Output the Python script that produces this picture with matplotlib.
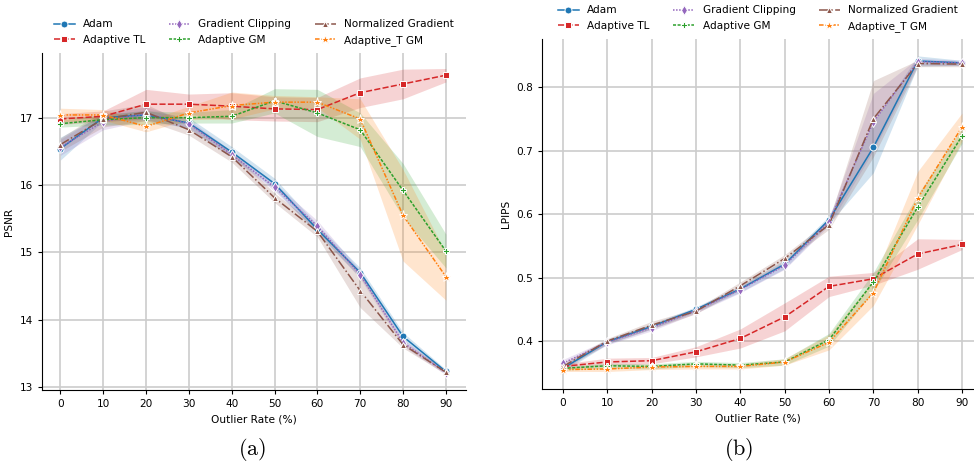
import matplotlib
matplotlib.use("Agg")
import matplotlib.pyplot as plt
import numpy as np

# Outlier rates (%)
rates = [0, 10, 20, 30, 40, 50, 60, 70, 80, 90]

methods = ["Adam", "Adaptive TL", "Gradient Clipping", "Adaptive GM",
           "Normalized Gradient", "Adaptive_T GM"]

# PSNR means and band half-widths
psnr_adam = [16.54, 17.00, 17.04, 16.92, 16.49, 16.02, 15.34, 14.70, 13.75, 13.23]
psnr_tl = [16.98, 17.02, 17.20, 17.20, 17.17, 17.13, 17.12, 17.37, 17.50, 17.63]
psnr_clip = [16.56, 16.94, 17.06, 16.91, 16.45, 15.97, 15.39, 14.67, 13.66, 13.21]
psnr_gm = [16.91, 16.97, 17.00, 17.00, 17.02, 17.25, 17.07, 16.82, 15.92, 15.02]
psnr_norm = [16.60, 16.98, 17.08, 16.82, 16.42, 15.81, 15.31, 14.43, 13.63, 13.22]
psnr_tgm = [17.04, 17.04, 16.87, 17.07, 17.18, 17.23, 17.23, 16.98, 15.55, 14.64]

psnr_adam_err = [0.17, 0.05, 0.07, 0.08, 0.08, 0.08, 0.07, 0.07, 0.06, 0.03]
psnr_tl_err = [0.08, 0.08, 0.22, 0.15, 0.20, 0.18, 0.18, 0.22, 0.22, 0.10]
psnr_clip_err = [0.12, 0.12, 0.10, 0.06, 0.05, 0.06, 0.08, 0.06, 0.05, 0.03]
psnr_gm_err = [0.05, 0.08, 0.10, 0.08, 0.10, 0.18, 0.35, 0.25, 0.40, 0.25]
psnr_norm_err = [0.10, 0.12, 0.12, 0.08, 0.08, 0.07, 0.08, 0.25, 0.05, 0.03]
psnr_tgm_err = [0.10, 0.08, 0.08, 0.10, 0.20, 0.10, 0.08, 0.30, 0.68, 0.35]

# LPIPS means and band half-widths
lpips_adam = [0.357, 0.399, 0.423, 0.450, 0.482, 0.521, 0.591, 0.705, 0.841, 0.838]
lpips_tl = [0.360, 0.367, 0.369, 0.383, 0.404, 0.438, 0.486, 0.498, 0.537, 0.552]
lpips_clip = [0.365, 0.398, 0.421, 0.448, 0.481, 0.519, 0.588, 0.745, 0.840, 0.838]
lpips_gm = [0.357, 0.361, 0.360, 0.364, 0.362, 0.367, 0.402, 0.493, 0.611, 0.723]
lpips_norm = [0.360, 0.400, 0.425, 0.447, 0.487, 0.530, 0.583, 0.750, 0.837, 0.836]
lpips_tgm = [0.355, 0.356, 0.359, 0.360, 0.360, 0.367, 0.398, 0.476, 0.625, 0.737]

lpips_adam_err = [0.005, 0.004, 0.004, 0.004, 0.005, 0.007, 0.006, 0.040, 0.008, 0.004]
lpips_tl_err = [0.004, 0.006, 0.005, 0.008, 0.015, 0.022, 0.016, 0.010, 0.024, 0.008]
lpips_clip_err = [0.006, 0.004, 0.005, 0.004, 0.005, 0.006, 0.006, 0.045, 0.005, 0.004]
lpips_gm_err = [0.003, 0.004, 0.004, 0.004, 0.004, 0.005, 0.010, 0.015, 0.020, 0.012]
lpips_norm_err = [0.005, 0.004, 0.006, 0.004, 0.006, 0.006, 0.007, 0.060, 0.005, 0.004]
lpips_tgm_err = [0.003, 0.004, 0.004, 0.004, 0.004, 0.005, 0.012, 0.020, 0.042, 0.022]

psnr = [psnr_adam, psnr_tl, psnr_clip, psnr_gm, psnr_norm, psnr_tgm]
psnr_err = [psnr_adam_err, psnr_tl_err, psnr_clip_err, psnr_gm_err, psnr_norm_err, psnr_tgm_err]
lpips = [lpips_adam, lpips_tl, lpips_clip, lpips_gm, lpips_norm, lpips_tgm]
lpips_err = [lpips_adam_err, lpips_tl_err, lpips_clip_err, lpips_gm_err, lpips_norm_err, lpips_tgm_err]

# styles
colors = ["tab:blue", "tab:red", "tab:purple", "tab:green", "tab:brown", "tab:orange"]
markers = ["o", "s", "d", "P", "^", "*"]
dashes = ["-", (0, (4, 1.5)), (0, (1, 1)), (0, (2, 1)), "-.", (0, (3, 1, 1, 1, 1, 1))]

plt.rcParams["font.size"] = 7.6
plt.rcParams["mathtext.fontset"] = "cm"

fig = plt.figure(figsize=(9.74, 4.67), dpi=100)
ax1 = fig.add_axes([0.0431, 0.1649, 0.4353, 0.7216])
ax2 = fig.add_axes([0.5565, 0.1670, 0.4435, 0.7495])


def draw(ax, means, errs, ylabel):
    x = np.array(rates)
    for name, m, e, c, mk, ls in zip(methods, means, errs, colors, markers, dashes):
        m = np.array(m)
        e = np.array(e)
        ax.fill_between(x, m - e, m + e, color=c, alpha=0.2, linewidth=0)
        ax.plot(x, m, color=c, linestyle=ls, linewidth=1.1, marker=mk,
                markersize=5 if mk != "*" else 6.5, markeredgecolor="white",
                markeredgewidth=0.7, label=name)
    ax.set_xticks(rates)
    ax.set_xlabel("Outlier Rate (%)")
    ax.set_ylabel(ylabel)
    ax.grid(True, color="#cccccc", linewidth=1.2)
    ax.set_axisbelow(True)
    ax.spines["top"].set_visible(False)
    ax.spines["right"].set_visible(False)
    ax.tick_params(length=3, width=0.8)
    ax.legend(loc="lower center", bbox_to_anchor=(0.5, 1.0), ncol=3,
              frameon=False, borderaxespad=0.3, handlelength=2.0,
              handletextpad=0.8, columnspacing=2.2)


draw(ax1, psnr, psnr_err, "PSNR")
ax1.set_xlim(-4.3, 94.7)
ax1.set_ylim(12.955, 17.96)
ax1.set_yticks([13, 14, 15, 16, 17])

draw(ax2, lpips, lpips_err, "LPIPS")
ax2.set_xlim(-4.74, 92.7)
ax2.set_ylim(0.3244, 0.8756)
ax2.set_yticks([0.4, 0.5, 0.6, 0.7, 0.8])

fig.text(252 / 974, 0.026, r"$\mathrm{(a)}$", ha="center", va="baseline", fontsize=16)
fig.text(739 / 974, 0.026, r"$\mathrm{(b)}$", ha="center", va="baseline", fontsize=16)

fig.savefig("out.png", dpi=100)
